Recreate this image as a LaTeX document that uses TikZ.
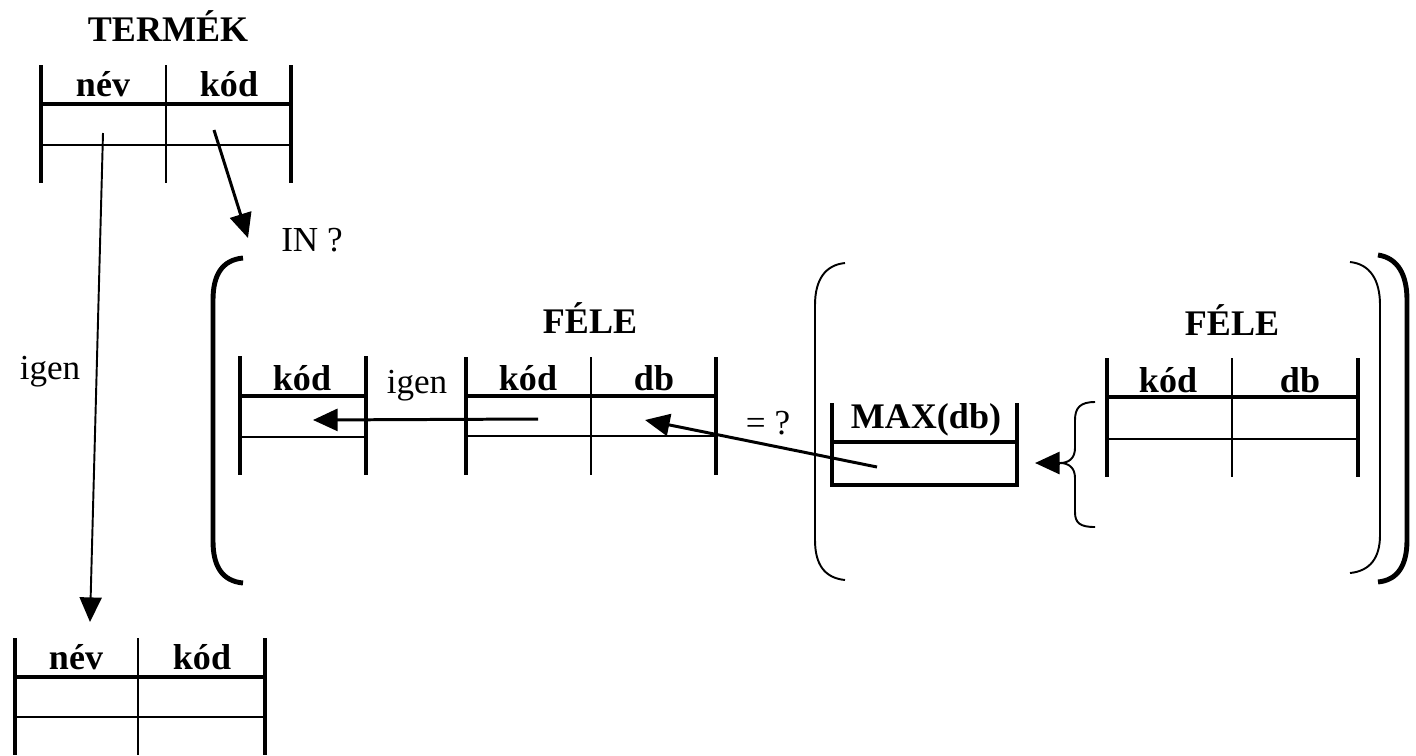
\documentclass[tikz,border=0pt]{standalone}
\usepackage{fontspec}
\setmainfont{Liberation Serif}
\usetikzlibrary{arrows.meta}

\begin{document}
\begin{tikzpicture}[x=0.02cm,y=-0.02cm,
  bar/.style={line width=2.8pt},
  head/.style={line width=2.3pt},
  thin/.style={line width=1.1pt},
  arr/.style={line width=1.7pt,-{Triangle[length=14pt,width=12.5pt]}},
  lab/.style={font=\fontsize{20.5}{24}\selectfont\bfseries},
  txt/.style={font=\fontsize{20}{24}\selectfont}]
\useasboundingbox (0,0) rectangle (1416,755);
% TERMEK table
\node[lab] (termek) at (168,26) {TERMÉK};
\draw[bar] (41,65) -- (41,183) (291,65) -- (291,183);
\draw[thin] (166,65) -- (166,183) (41,145) -- (291,145);
\draw[head] (41,104) -- (291,104);
\node[lab] (tnev) at (103,84) {név};
\node[lab] (tkod) at (229,84) {kód};
% result table
\draw[bar] (15,638) -- (15,755) (265,638) -- (265,755);
\draw[thin] (138,638) -- (138,755) (15,717) -- (265,717);
\draw[head] (15,677) -- (265,677);
\node[lab] (rnev) at (76,657) {név};
\node[lab] (rkod) at (202,657) {kód};
% big bracket
\draw[line width=2.8pt] (243,258) .. controls (222,260) and (213,275) .. (213,300)
   -- (213,541) .. controls (213,566) and (222,581) .. (243,583);
% kod table
\draw[bar] (240,356) -- (240,475) (366,356) -- (366,475);
\draw[head] (240,396) -- (366,396);
\draw[thin] (240,437) -- (366,437);
\node[lab] (kkod) at (302,378) {kód};
% FELE table
\node[lab] (fele) at (590,318) {FÉLE};
\draw[bar] (466,357) -- (466,475) (716,357) -- (716,475);
\draw[thin] (591,357) -- (591,475) (466,436) -- (716,436);
\draw[head] (466,396) -- (716,396);
\node[lab] (fkod) at (528,378) {kód};
\node[lab] (fdb) at (654,378) {db};
% inner brackets
\draw[thin] (845,263) .. controls (825,265) and (815,280) .. (815,305)
   -- (815,540) .. controls (815,565) and (825,578) .. (845,580);
\draw[thin] (1350,262) .. controls (1370,264) and (1380,280) .. (1380,305)
   -- (1380,535) .. controls (1380,558) and (1370,571) .. (1350,573);
\draw[line width=2.8pt] (1378,255) .. controls (1398,258) and (1407,275) .. (1407,300)
   -- (1407,540) .. controls (1407,565) and (1398,580) .. (1378,582);
% MAX table
\draw[bar] (832,403) -- (832,485) -- (1017,485) -- (1017,403);
\draw[head] (832,442) -- (1017,442);
\node[lab] (max) at (926,420) {MAX(db)};
% second FELE table
\node[lab] (fele2) at (1232,320) {FÉLE};
\draw[bar] (1107,358) -- (1107,477) (1358,358) -- (1358,477);
\draw[thin] (1232,358) -- (1232,477) (1107,439) -- (1358,439);
\draw[head] (1107,397) -- (1358,397);
\node[lab] (gkod) at (1168,380) {kód};
\node[lab] (gdb) at (1300,380) {db};
% curly brace
\coordinate (cusp) at (1060,463);
\draw[thin] (1095,402) .. controls (1080,402) and (1075,408) .. (1075,420)
   -- (1075,448) .. controls (1075,458) and (1069,463) .. (cusp)
   .. controls (1069,463) and (1075,468) .. (1075,478)
   -- (1075,512) .. controls (1075,523) and (1080,527) .. (1095,527);
% texts
\node[txt] (in) at (312,240) {IN ?};
\node[txt] (igen1) at (50,372) {igen};
\node[txt] (igen2) at (417,386) {igen};
\node[txt] (eq) at (768,423) {= ?};
% arrows
\coordinate (tkodcell) at (214,130);
\coordinate (intip) at (248,238);
\coordinate (tnevcell) at (103,133);
\coordinate (rtip) at (90,622);
\coordinate (fkodcell) at (538,419);
\coordinate (kkodcell) at (313,420);
\coordinate (maxcell) at (877,467);
\coordinate (fdbcell) at (645,420);
\coordinate (maxtip) at (1035,463);
\draw[arr] (tkodcell) -- (intip);
\draw[arr,line width=1.1pt] (tnevcell) -- (rtip);
\draw[arr] (fkodcell) -- (kkodcell);
\draw[arr] (maxcell) -- (fdbcell);
\draw[arr] (cusp) -- (maxtip);
\end{tikzpicture}
\end{document}
